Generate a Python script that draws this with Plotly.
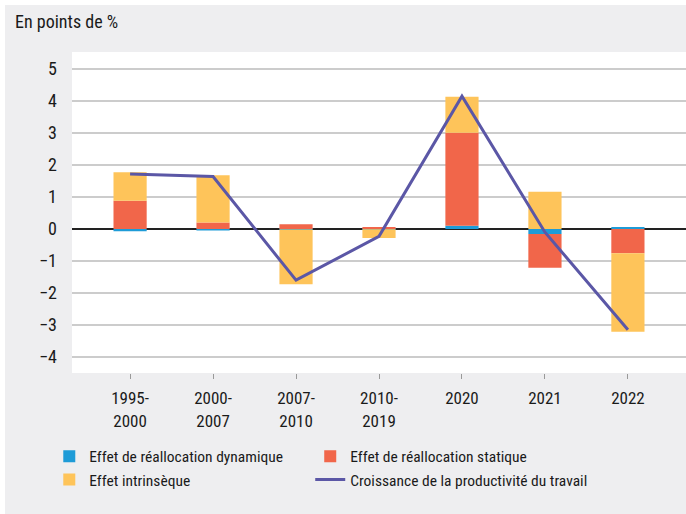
import plotly.graph_objects as go

categories = ["1995-2000", "2000-2007", "2007-2010", "2010-2019", "2020", "2021", "2022"]
dynamique = [-0.07, -0.05, -0.02, -0.01, 0.10, -0.16, 0.06]
statique = [0.88, 0.20, 0.15, 0.04, 2.91, -1.05, -0.76]
intrinseque = [0.89, 1.48, -1.71, -0.27, 1.12, 1.16, -2.45]
croissance = [1.72, 1.64, -1.60, -0.23, 4.15, -0.10, -3.15]
y_ticks = [-4, -3, -2, -1, 0, 1, 2, 3, 4, 5]

FONT = "Roboto Condensed, Roboto, sans-serif"
BG = "#EEEEF0"
W, H = 686, 514
L, R, T, B = 72, 0, 52, 141

x = list(range(len(categories)))
tick_text = [c.replace("-", "-<br>") for c in categories]

fig = go.Figure()
fig.add_bar(x=x, y=dynamique, name="Effet de réallocation dynamique", legend="legend",
            marker=dict(color="#1E9BD7", line=dict(width=0)), width=0.4)
fig.add_bar(x=x, y=statique, name="Effet de réallocation statique", legend="legend2",
            marker=dict(color="#F1664A", line=dict(width=0)), width=0.4)
fig.add_bar(x=x, y=intrinseque, name="Effet intrinsèque", legend="legend",
            marker=dict(color="#FEC45A", line=dict(width=0)), width=0.4)
fig.add_scatter(x=x, y=croissance, name="Croissance de la productivité du travail",
                legend="legend2", mode="lines", line=dict(color="#5B57A6", width=3))

pw, ph = W - L - R, H - T - B
fig.add_shape(type="rect", xref="paper", yref="paper", layer="below",
              x0=(0 - L) / pw, x1=(5 - L) / pw, y0=-B / ph, y1=(ph + T) / ph,
              fillcolor="white", line=dict(width=0))
fig.add_shape(type="rect", xref="paper", yref="paper", layer="below",
              x0=(0 - L) / pw, x1=1.01, y0=(ph + T - 5) / ph, y1=(ph + T) / ph,
              fillcolor="white", line=dict(width=0))

annotations = [dict(text="En points de %", xref="paper", yref="paper",
                    x=(13 - L) / pw, y=(ph + T - 22) / ph, xanchor="left", yanchor="middle",
                    showarrow=False, font=dict(size=18, family=FONT, color="#1a1a1a"))]

leg_common = dict(orientation="v", xanchor="left", y=-0.208, yanchor="top",
                  traceorder="normal", font=dict(size=15.5), bgcolor="rgba(0,0,0,0)",
                  itemwidth=30, tracegroupgap=0)
fig.update_layout(
    width=W, height=H,
    margin=dict(l=L, r=R, t=T, b=B),
    paper_bgcolor=BG, plot_bgcolor="white",
    barmode="relative",
    font=dict(family=FONT, size=18, color="#1a1a1a"),
    showlegend=True,
    legend=dict(x=-0.037, **leg_common),
    legend2=dict(x=0.388, **leg_common),
    annotations=annotations,
)
fig.update_xaxes(range=[-0.7, 6.7], tickvals=x, ticktext=tick_text,
                 tickfont=dict(size=17),
                 showgrid=False, ticks="outside", ticklen=5, tickcolor="#999999",
                 tickwidth=1, showline=False, zeroline=False, ticklabelstandoff=5)
fig.update_yaxes(range=[-4.5, 5.53], tickvals=y_ticks, showgrid=True,
                 gridcolor="#CCCCCC", gridwidth=1.5, zeroline=True,
                 zerolinecolor="#222222", zerolinewidth=1.5, ticks="",
                 ticklabelstandoff=14, showline=False)
fig.write_html("out.html", config={"displayModeBar": False},
               post_script="document.body.style.margin='0';")
